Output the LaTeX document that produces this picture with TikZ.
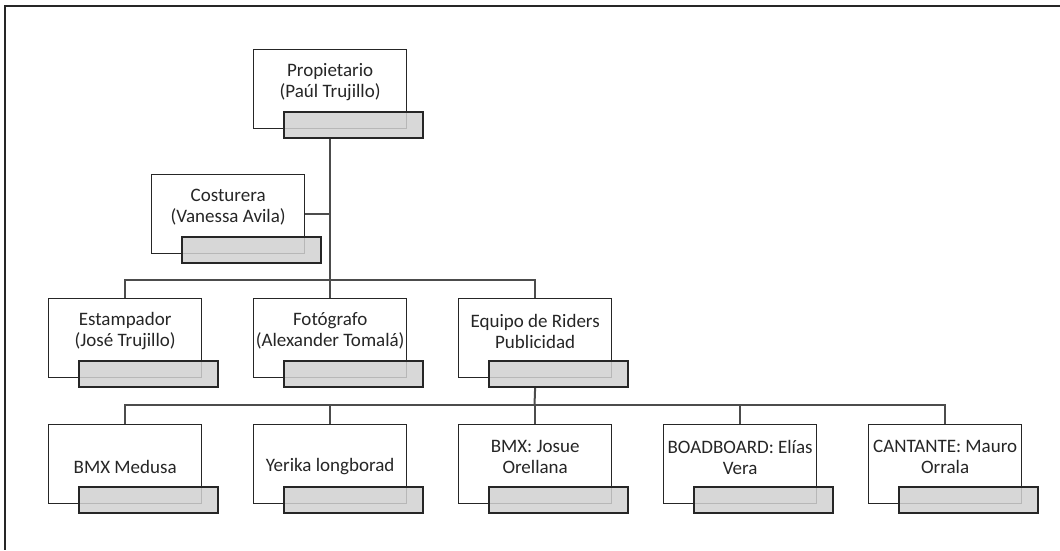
\documentclass[tikz,border=0pt]{standalone}
\usepackage{fontspec}
\setmainfont{Carlito}
\begin{document}
\begin{tikzpicture}[x=1pt,y=-1pt,
  role/.style={draw=black!85, line width=1.3pt, fill=white, minimum width=153pt,
    minimum height=79pt, anchor=north west, inner sep=0pt},
  bar/.style={draw=black!85, line width=1.5pt, fill=black!18, fill opacity=0.85,
    minimum width=139pt, minimum height=26pt, anchor=north west, inner sep=0pt},
  label/.style={text=black!85, align=center, inner sep=0pt,
    font=\fontsize{19}{21}\selectfont},
  link/.style={draw=black!70, line width=2pt},
  frame/.style={draw=black!85, line width=1.5pt}]
\useasboundingbox (0,0) rectangle (1060,550);
% page frame (top and left edges only)
\draw[frame] (1060,6) -- (5,6) -- (5,550);

% --- boxes: outline, grey name bar, title ---
\node[role] (p) at (253,49) {};
\node[role] (c) at (151,174) {};
\node[role] (e) at (48,298) {};
\node[role] (f) at (253,298) {};
\node[role] (q) at (458,298) {};
\node[role] (r1) at (48,424) {};
\node[role] (r2) at (253,424) {};
\node[role] (r3) at (458,424) {};
\node[role] (r4) at (663,424) {};
\node[role] (r5) at (868,424) {};

% connectors
\coordinate (j2) at (329.5,280);
\coordinate (j3) at (534.5,405);
\draw[link] (p.center |- 0,137) -- (f.north);
\draw[link] (c.east) -- (c.east -| p.center);
\draw[link] (e.north) |- (j2) -| (q.north);
\draw[link] (q.center |- 0,387) -- (j3);
\draw[link] (r1.north) |- (j3) -| (r5.north);
\draw[link] (r2.north) -- (r2.north |- j3);
\draw[link] (r3.north) -- (r3.north |- j3);
\draw[link] (r4.north) -- (r4.north |- j3);

\foreach \n in {p,c,e,f,q,r1,r2,r3,r4,r5}{
  \node[bar] (\n g) at ([xshift=30pt,yshift=-62pt]\n.north west) {};
}

\node[label] (pt) at ([yshift=-33pt]p.north) {Propietario\\(Paúl Trujillo)};
\node[label] (ct) at ([yshift=-33pt]c.north) {Costurera\\(Vanessa Avila)};
\node[label] (et) at ([yshift=-33pt]e.north) {Estampador\\(José Trujillo)};
\node[label] (ft) at ([yshift=-33pt]f.north) {Fotógrafo\\(Alexander Tomalá)};
\node[label] (qt) at ([yshift=-33pt]q.north) {Equipo de Riders\\Publicidad};
\node[label] (r1t) at ([yshift=-43pt]r1.north) {BMX Medusa};
\node[label] (r2t) at ([yshift=-43pt]r2.north) {Yerika longborad};
\node[label] (r3t) at ([yshift=-33pt]r3.north) {BMX: Josue\\Orellana};
\node[label] (r4t) at ([yshift=-33pt]r4.north) {BOADBOARD: Elías\\Vera};
\node[label] (r5t) at ([yshift=-33pt]r5.north) {CANTANTE: Mauro\\Orrala};
\end{tikzpicture}
\end{document}
